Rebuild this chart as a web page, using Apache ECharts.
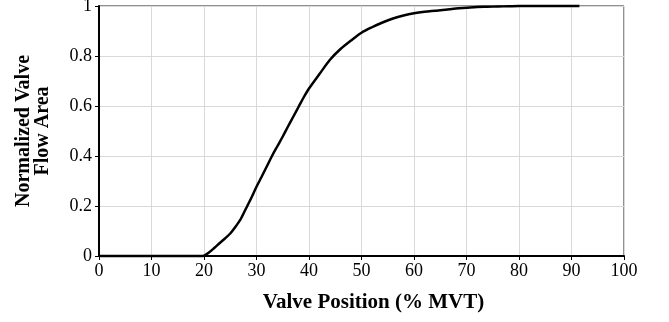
<!DOCTYPE html>
<html>
<head>
<meta charset="utf-8">
<script src="https://cdn.jsdelivr.net/npm/echarts@6/dist/echarts.min.js"></script>
<style>
  html, body { margin: 0; padding: 0; background: #fff; }
  #chart { width: 669px; height: 322px; }
</style>
</head>
<body>
<div id="chart"></div>
<script>
// Valve position (% of maximum valve travel)
const valvePosition = [0, 5, 10, 15, 19.8, 21, 22, 23, 24, 25, 26, 27, 28, 29, 30, 31, 32, 33, 34, 35, 36, 37, 38, 39, 40,
  42, 44, 46, 48, 50, 52, 54, 56, 58, 60, 62, 64, 66, 68, 70, 72, 74, 76, 78, 80, 85, 91.5];
// Normalized flow area at each position
const flowArea = [0, 0, 0, 0, 0, 0.015, 0.033, 0.052, 0.07, 0.09, 0.117, 0.148, 0.19, 0.232, 0.277, 0.318, 0.36, 0.402, 0.44, 0.478, 0.518, 0.557, 0.596, 0.635, 0.67,
  0.728, 0.785, 0.828, 0.862, 0.893, 0.915, 0.934, 0.95, 0.962, 0.971, 0.977, 0.981, 0.985, 0.99, 0.993, 0.996, 0.997, 0.998, 0.999, 1.0, 1.0, 1.0];

const xTicks = [0, 10, 20, 30, 40, 50, 60, 70, 80, 90, 100];
const yTicks = [0, 0.2, 0.4, 0.6, 0.8, 1];

const font = '"Liberation Serif", "Times New Roman", serif';

const chart = echarts.init(document.getElementById('chart'));
chart.setOption({
  animation: false,
  grid: {
    left: 99, right: 45, top: 6, bottom: 66,
    outerBoundsMode: 'none', containLabel: false,
    show: true, borderColor: '#222', borderWidth: 1, backgroundColor: 'transparent'
  },
  xAxis: {
    type: 'value', min: xTicks[0], max: xTicks[xTicks.length - 1], interval: 10,
    name: 'Valve Position (% MVT)', nameLocation: 'middle', nameGap: 36,
    nameTextStyle: { fontFamily: font, fontSize: 21, fontWeight: 'bold', color: '#000', padding: [0, 0, 0, 24] },
    axisLine: { show: true, onZero: false, lineStyle: { color: '#000', width: 2 } },
    axisTick: { show: true, length: 4, lineStyle: { color: '#000', width: 1 } },
    axisLabel: { fontFamily: font, fontSize: 18, color: '#000', margin: 6 },
    splitLine: { show: true, lineStyle: { color: '#d9d9d9', width: 1 } }
  },
  yAxis: {
    type: 'value', min: yTicks[0], max: yTicks[yTicks.length - 1], interval: 0.2,
    name: 'Normalized Valve\nFlow Area', nameLocation: 'middle', nameGap: 47,
    nameTextStyle: { fontFamily: font, fontSize: 20, fontWeight: 'bold', color: '#000', lineHeight: 19 },
    axisLine: { show: true, onZero: false, lineStyle: { color: '#000', width: 2 } },
    axisTick: { show: true, length: 4, lineStyle: { color: '#000', width: 1 } },
    axisLabel: {
      fontFamily: font, fontSize: 18, color: '#000', margin: 7,
      formatter: v => (v === 0 || v === 1) ? String(v) : v.toFixed(1)
    },
    splitLine: { show: true, lineStyle: { color: '#d9d9d9', width: 1 } }
  },
  series: [{
    type: 'line',
    data: valvePosition.map((x, i) => [x, flowArea[i]]),
    showSymbol: false,
    smooth: 0.3,
    lineStyle: { color: '#000', width: 2.5 },
    clip: false
  }]
});
</script>
</body>
</html>
